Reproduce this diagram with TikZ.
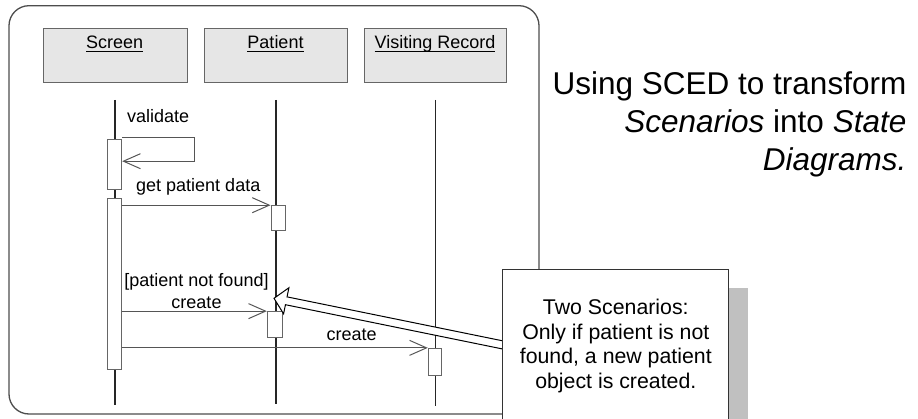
\documentclass[tikz,border=0pt]{standalone}
\usepackage{fontspec}
\setmainfont{Liberation Sans}
\usetikzlibrary{arrows.meta,calc}
\definecolor{hdrfill}{HTML}{E6E6E6}
\definecolor{hdrline}{HTML}{666666}
\definecolor{shadowgray}{HTML}{C0C0C0}
\definecolor{outerline}{HTML}{4D4D4D}
\definecolor{msgline}{HTML}{555555}
\newcommand\ulbox[1]{\setbox0=\hbox{#1}\rlap{\rule[-3pt]{\wd0}{1.2pt}}\box0}
\tikzset{
  hdrbox/.style={draw=hdrline,fill=hdrfill,line width=1pt,minimum height=53.4pt,inner sep=0pt,anchor=north west},
  actbox/.style={draw=hdrline,fill=white,line width=1pt,inner sep=0pt},
  lifeline/.style={draw=black!85,line width=1.3pt},
  msg/.style={draw=msgline,line width=1pt,-{Straight Barb[length=17pt,width=15pt]}},
  lbl/.style={font=\fontsize{18}{21}\selectfont,inner sep=0pt,anchor=base},
  notetxt/.style={font=\fontsize{21.3}{24}\selectfont,inner sep=0pt,anchor=base},
  titletxt/.style={font=\fontsize{31.5}{38}\selectfont,inner sep=0pt,anchor=base east},
  blockarrow/.style={draw=black,fill=white,line width=1pt,line join=miter},
}
\begin{document}
\begin{tikzpicture}[x=1pt,y=-1pt]
\useasboundingbox (0,0) rectangle (918,419);
\clip (0,0) rectangle (918,419);
% frame
\draw[draw=outerline,line width=1.3pt,rounded corners=20pt] (9,5.7) rectangle (539,414);
% headers
\node[hdrbox,minimum width=144pt] (scr) at (42.7,28.3) {};
\node[hdrbox,minimum width=143pt] (pat) at (204,28.3) {};
\node[hdrbox,minimum width=142pt] (vr) at (364,28.3) {};
\node[lbl] (scrT) at (114.7,49) {\ulbox{Screen}};
\node[lbl] (patT) at (275.5,49) {\ulbox{Patient}};
\node[lbl] (vrT) at (435,49) {\ulbox{Visiting Record}};
% lifelines
\draw[lifeline] (115,100) -- (115,405);
\draw[lifeline] (276,100) -- (276,404);
\draw[lifeline] (435.5,100) -- (435.5,406);
% activations
\node[actbox,minimum width=14.4pt,minimum height=50pt] (scrA1) at (114.5,165) {};
\node[actbox,minimum width=14.4pt,minimum height=171pt] (scrA2) at (114.5,284.5) {};
\node[actbox,minimum width=14pt,minimum height=25pt] (patA1) at (278,218.2) {};
\node[actbox,minimum width=15.4pt,minimum height=26.3pt] (patA2) at (275,324.8) {};
\node[actbox,minimum width=13.4pt,minimum height=26.7pt] (vrA) at (435,361.7) {};
% messages
\draw[msg] ([yshift=2.3pt]scrA1.north east) -- ++(72.3,0) |- ([yshift=-21.7pt]scrA1.north east);
\draw[msg] (scrA2.east |- patA1.north) -- (patA1.north west);
\draw[msg] (scrA2.east |- patA2.north) -- (patA2.north west);
\draw[msg] (scrA2.east |- vrA.north) -- (vrA.north west);
% labels
\node[lbl,anchor=base west] (lvalidate) at (127,122.3) {validate};
\node[lbl,anchor=base west] (lget) at (136,191.7) {get patient data};
\node[lbl] (lguard) at (196.5,286.5) {[patient not found]};
\node[lbl] (lcreate1) at (196.5,308.5) {create};
\node[lbl] (lcreate2) at (351.7,340.7) {create};
% block arrow from note
\coordinate (calltip) at (274,298.3);
\coordinate (calltail) at (508,346);
\draw[blockarrow] let \p1=(calltip), \p2=(calltail),
    \n1={atan2(\y2-\y1,\x2-\x1)}, \n2={\n1+90}, \n3={\n1-90} in
  (\p1) -- ($(\p1)+(\n1:12.5pt)+(\n2:13.3pt)$) -- ($(\p1)+(\n1:12.5pt)+(\n2:4pt)$)
  -- ($(\p2)+(\n2:4pt)$) -- ($(\p2)+(\n3:4pt)$)
  -- ($(\p1)+(\n1:12.5pt)+(\n3:4pt)$) -- ($(\p1)+(\n1:12.5pt)+(\n3:13.3pt)$) -- cycle;
% note with shadow
\fill[shadowgray] (520.7,288.3) rectangle (747.7,440);
\node[draw=black!80,fill=white,line width=1pt,minimum width=226.6pt,minimum height=170pt,inner sep=0pt,anchor=north west] (note) at (501.7,269.3) {};
\node[notetxt] (n1) at (615.8,315) {Two Scenarios:};
\node[notetxt] (n2) at (615.8,339.4) {Only if patient is not};
\node[notetxt] (n3) at (615.8,363.8) {found, a new patient};
\node[notetxt] (n4) at (615.8,388.2) {object is created.};
% title
\node[titletxt] (t1) at (906.5,94.3) {Using SCED to transform};
\node[titletxt] (t2) at (906.5,132.7) {\textit{Scenarios} into \textit{State}};
\node[titletxt] (t3) at (906.5,170.5) {\textit{Diagrams.}};
\end{tikzpicture}
\end{document}
